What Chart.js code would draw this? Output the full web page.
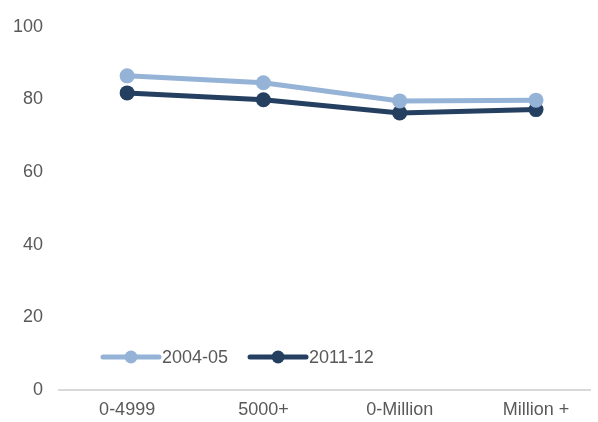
<!DOCTYPE html>
<html>
<head>
<meta charset="utf-8">
<script src="https://cdn.jsdelivr.net/npm/chart.js@4/dist/chart.umd.min.js"></script>
<style>
  html, body { margin: 0; padding: 0; background: #fff; overflow: hidden; }
  #wrap { width: 598px; height: 422px; }
</style>
</head>
<body>
<div id="wrap"><canvas id="chart" width="598" height="422"></canvas></div>
<script>
// chart data
const categories = ["0-4999", "5000+", "0-Million", "Million +"];
const series2004 = [86.5, 84.6, 79.6, 79.8];
const series2011 = [81.8, 79.9, 76.3, 77.2];
const yTicks = [0, 20, 40, 60, 80, 100];

const LIGHT = "#95B3D7";
const DARK = "#243F60";
const TEXT = "#595959";
const FONT = "'Liberation Sans', Arial, sans-serif";

// the original plot is cut off at the right edge, so the x range ends
// part way through the last category slot
const X_MIN = -0.5;
const X_MAX = 3.4;

function toPoints(values) {
  return values.map(function (v, i) { return { x: i, y: v }; });
}

// legend drawn inside the plot area, line + dot like the original
const insideLegend = {
  id: "insideLegend",
  afterDatasetsDraw(chart) {
    const ctx = chart.ctx;
    const area = chart.chartArea;
    let x = area.left + 44;
    const y = area.bottom - 33;
    ctx.save();
    ctx.font = "18px " + FONT;
    ctx.textBaseline = "middle";
    chart.data.datasets.forEach(function (ds) {
      ctx.strokeStyle = ds.borderColor;
      ctx.lineWidth = 5;
      ctx.lineCap = "round";
      ctx.beginPath();
      ctx.moveTo(x, y);
      ctx.lineTo(x + 56, y);
      ctx.stroke();
      ctx.fillStyle = ds.borderColor;
      ctx.beginPath();
      ctx.arc(x + 28, y, 6.5, 0, Math.PI * 2);
      ctx.fill();
      ctx.fillStyle = TEXT;
      ctx.fillText(ds.label, x + 59, y + 1);
      x += 59 + ctx.measureText(ds.label).width + 22;
    });
    ctx.restore();
  },
};

new Chart(document.getElementById("chart"), {
  type: "line",
  data: {
    datasets: [
      {
        label: "2004-05",
        data: toPoints(series2004),
        borderColor: LIGHT,
        backgroundColor: LIGHT,
        borderWidth: 5,
        pointRadius: 7.5,
        pointHoverRadius: 7.5,
        pointBorderWidth: 0,
        tension: 0,
      },
      {
        label: "2011-12",
        data: toPoints(series2011),
        borderColor: DARK,
        backgroundColor: DARK,
        borderWidth: 5,
        pointRadius: 7.5,
        pointHoverRadius: 7.5,
        pointBorderWidth: 0,
        tension: 0,
      },
    ],
  },
  options: {
    responsive: false,
    animation: false,
    layout: { padding: { top: 23, right: 0, bottom: 0, left: 0 } },
    clip: false,
    plugins: {
      legend: { display: false },
      tooltip: { enabled: false },
    },
    scales: {
      x: {
        type: "linear",
        min: X_MIN,
        max: X_MAX,
        grid: { display: false, drawTicks: false },
        border: { display: true, color: "#D9D9D9", width: 2 },
        afterBuildTicks(scale) { scale.ticks = categories.map(function (c, i) { return { value: i }; }); },
        ticks: {
          color: TEXT,
          font: { family: FONT, size: 18 },
          padding: 9,
          maxRotation: 0,
          autoSkip: false,
          callback: function (value) { return categories[value]; },
        },
        afterFit(scale) { scale.height = 32; },
      },
      y: {
        min: 0,
        max: 100,
        grid: { display: false, drawTicks: false },
        border: { display: false },
        afterBuildTicks(scale) { scale.ticks = yTicks.map(function (v) { return { value: v }; }); },
        ticks: {
          color: TEXT,
          font: { family: FONT, size: 18 },
          padding: 16,
        },
        afterFit(scale) { scale.width = 59; },
      },
    },
  },
  plugins: [insideLegend],
});
</script>
</body>
</html>
